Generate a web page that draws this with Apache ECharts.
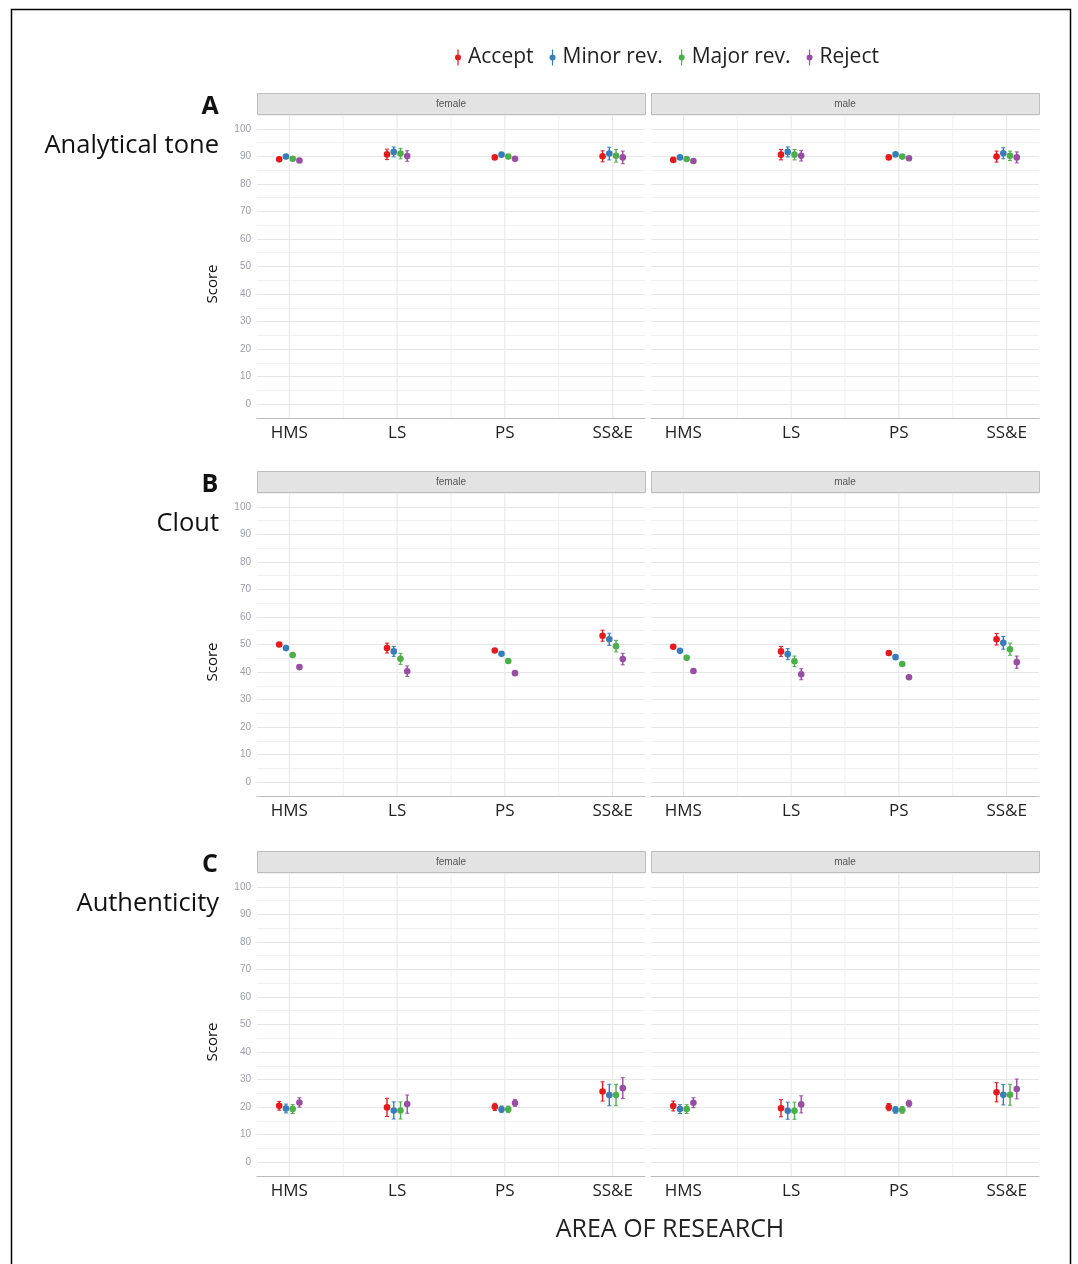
<!DOCTYPE html>
<html><head><meta charset="utf-8">
<script src="https://cdn.jsdelivr.net/npm/echarts@6/dist/echarts.min.js"></script>
<style>html,body{margin:0;padding:0;background:#fff}#c{width:1078px;height:1264px}</style>
</head><body><div id="c"></div>
<script>
const categories = ['HMS', 'LS', 'PS', 'SS&E'];
const decisions = ['Accept', 'Minor rev.', 'Major rev.', 'Reject'];
const genders = ['female', 'male'];
const metrics = ['Analytical tone', 'Clout', 'Authenticity'];
const panelLetters = ['A', 'B', 'C'];
const yTickLabels = [0, 10, 20, 30, 40, 50, 60, 70, 80, 90, 100];
const colors = ['#E41A1C', '#377EB8', '#4DAF4A', '#984EA3'];

// rows = decision (Accept, Minor, Major, Reject); columns = category (HMS, LS, PS, SS&E)
const analyticalFemaleMean = [[88.9, 90.7, 89.6, 90.0], [89.9, 91.6, 90.6, 91.0], [89.1, 91.0, 89.9, 90.2], [88.5, 90.1, 89.1, 89.6]];
const analyticalFemaleErr  = [[0.6, 1.9, 0.6, 2.0], [0.5, 1.8, 0.5, 2.3], [0.5, 1.9, 0.5, 2.3], [0.6, 1.9, 0.6, 2.3]];
const analyticalMaleMean   = [[88.7, 90.6, 89.6, 89.9], [89.6, 91.6, 90.7, 91.1], [89.0, 90.6, 89.9, 90.2], [88.3, 90.2, 89.3, 89.6]];
const analyticalMaleErr    = [[0.6, 1.9, 0.5, 2.0], [0.5, 1.8, 0.5, 2.0], [0.5, 1.9, 0.5, 1.7], [0.6, 1.9, 0.6, 2.0]];
const cloutFemaleMean = [[50.0, 48.7, 47.8, 53.2], [48.7, 47.5, 46.6, 51.9], [46.2, 44.8, 44.0, 49.4], [41.8, 40.3, 39.6, 44.7]];
const cloutFemaleErr  = [[0.6, 1.8, 0.6, 2.0], [0.6, 1.8, 0.6, 2.2], [0.6, 2.0, 0.6, 2.1], [0.7, 1.9, 0.6, 2.1]];
const cloutMaleMean   = [[49.2, 47.5, 46.9, 51.9], [47.7, 46.5, 45.4, 50.6], [45.2, 43.9, 42.9, 48.3], [40.4, 39.2, 38.1, 43.6]];
const cloutMaleErr    = [[0.6, 1.8, 0.6, 2.1], [0.6, 2.0, 0.6, 2.3], [0.6, 1.9, 0.6, 2.2], [0.6, 2.0, 0.6, 2.2]];
const authFemaleMean = [[20.5, 19.9, 20.1, 25.7], [19.5, 18.8, 19.2, 24.4], [19.3, 18.8, 19.2, 24.4], [21.7, 21.1, 21.5, 26.9]];
const authFemaleErr  = [[1.6, 3.3, 1.3, 3.5], [1.6, 3.1, 1.2, 3.9], [1.6, 3.1, 1.2, 3.9], [1.7, 3.3, 1.2, 3.8]];
const authMaleMean   = [[20.4, 19.6, 20.0, 25.4], [19.3, 18.7, 19.0, 24.5], [19.3, 18.7, 19.0, 24.5], [21.6, 21.0, 21.3, 26.6]];
const authMaleErr    = [[1.8, 3.1, 1.3, 3.5], [1.6, 3.1, 1.2, 3.7], [1.6, 3.1, 1.2, 3.8], [1.8, 3.1, 1.2, 3.6]];

const panelData = [
  [[analyticalFemaleMean, analyticalFemaleErr], [analyticalMaleMean, analyticalMaleErr]],
  [[cloutFemaleMean, cloutFemaleErr], [cloutMaleMean, cloutMaleErr]],
  [[authFemaleMean, authFemaleErr], [authMaleMean, authMaleErr]]
];

// layout
const colLeft = [257, 651];
const plotW = 388;
const rowTop = [115, 493, 873];
const plotH = 303;
const stripH = 21;
const dodge = 0.25;
const font = "'Open Sans', 'Noto Sans', sans-serif";

const grids = [], xAxes = [], yAxes = [], series = [], graphics = [];

graphics.push({type: 'rect', shape: {x: 11.5, y: 9.5, width: 1059, height: 1300}, style: {fill: 'none', stroke: '#000', lineWidth: 1.5}, z: 100});

function gridLineRender(params, api) {
  const x = api.value(0);
  const a = api.coord([x, -5]), b = api.coord([x, 105]);
  return {type: 'line', shape: {x1: a[0], y1: a[1], x2: b[0], y2: b[1]}, style: {stroke: Number.isInteger(x) ? '#e6e6e6' : '#f0f0f0', lineWidth: 1}};
}
function pointRender(params, api) {
  const x = api.value(0), m = api.value(1), e = api.value(2);
  const c = api.coord([x, m]), lo = api.coord([x, m - e]), hi = api.coord([x, m + e]);
  const color = api.visual('color');
  const cap = 2;
  return {type: 'group', children: [
    {type: 'line', shape: {x1: c[0], y1: lo[1], x2: c[0], y2: hi[1]}, style: {stroke: color, lineWidth: 1.4}},
    {type: 'line', shape: {x1: c[0] - cap, y1: lo[1], x2: c[0] + cap, y2: lo[1]}, style: {stroke: color, lineWidth: 1}},
    {type: 'line', shape: {x1: c[0] - cap, y1: hi[1], x2: c[0] + cap, y2: hi[1]}, style: {stroke: color, lineWidth: 1}},
    {type: 'circle', shape: {cx: c[0], cy: c[1], r: 3.3}, style: {fill: color}}
  ]};
}

let gi = 0;
for (let r = 0; r < 3; r++) {
  for (let g = 0; g < 2; g++) {
    grids.push({left: colLeft[g], top: rowTop[r], width: plotW, height: plotH});
    xAxes.push({
      gridIndex: gi, type: 'value', min: 0.7, max: 4.3,
      splitLine: {show: false}, axisTick: {show: false},
      axisLine: {show: true, onZero: false, lineStyle: {color: '#bcbcbc', width: 1.2}},
      axisLabel: {customValues: [1, 2, 3, 4], formatter: v => categories[Math.round(v) - 1], fontSize: 17, color: '#222', margin: 7, fontFamily: font}
    });
    yAxes.push({
      gridIndex: gi, type: 'value', min: -5, max: 105, interval: 5,
      axisLine: {show: false}, axisTick: {show: false},
      axisLabel: {show: g === 0, formatter: v => yTickLabels.includes(v) ? String(v) : '', fontSize: 10, color: '#9c9cac', margin: 6, fontFamily: "'Liberation Sans', sans-serif"},
      splitLine: {show: true, lineStyle: {color: ['#f0f0f0', '#e6e6e6'], width: 1}}
    });
    series.push({
      type: 'custom', xAxisIndex: gi, yAxisIndex: gi, silent: true, z: 1,
      data: [1, 1.5, 2, 2.5, 3, 3.5, 4].map(v => [v]), renderItem: gridLineRender
    });
    const [means, errs] = panelData[r][g];
    for (let d = 0; d < 4; d++) {
      series.push({
        type: 'custom', name: decisions[d], xAxisIndex: gi, yAxisIndex: gi, z: 5,
        itemStyle: {color: colors[d]},
        renderItem: pointRender,
        data: categories.map((c, k) => [k + 1 + (d - 1.5) * dodge / 4, means[d][k], errs[d][k]])
      });
    }
    // strip header
    graphics.push({type: 'rect', shape: {x: colLeft[g] + 0.5, y: rowTop[r] - stripH - 0.5, width: plotW, height: stripH}, style: {fill: '#e3e3e3', stroke: '#bdbdbd', lineWidth: 1}});
    graphics.push({type: 'text', x: colLeft[g] + plotW / 2, y: rowTop[r] - stripH / 2 - 0.5, style: {text: genders[g], fill: '#555', font: "10px 'Liberation Sans', sans-serif", align: 'center', verticalAlign: 'middle'}});
    gi++;
  }
  // row labels
  graphics.push({type: 'text', x: 210, y: rowTop[r] - 8, style: {text: panelLetters[r], fill: '#111', font: "bold 25px 'Open Sans', sans-serif", align: 'center', verticalAlign: 'middle'}});
  graphics.push({type: 'text', x: 219, y: rowTop[r] + 31, style: {text: metrics[r], fill: '#111', font: "25.5px 'Open Sans', sans-serif", align: 'right', verticalAlign: 'middle'}});
  graphics.push({type: 'text', x: 213, y: rowTop[r] + 169, rotation: Math.PI / 2, style: {text: 'Score', fill: '#111', font: "15px 'Open Sans', sans-serif", align: 'center', verticalAlign: 'middle'}});
}
graphics.push({type: 'text', x: 670, y: 1230, style: {text: 'AREA OF RESEARCH', fill: '#222', font: "25px 'Open Sans', sans-serif", align: 'center', verticalAlign: 'middle'}});

const legendIcon = 'path://M3.4,0H4.6V5.2H3.4Z M3.4,10.8H4.6V16H3.4Z M1,8A3,3 0 1 1 7,8A3,3 0 1 1 1,8Z';

const option = {
  animation: false,
  backgroundColor: '#fff',
  color: colors,
  legend: {
    left: 450, top: 42, itemWidth: 6, itemHeight: 17, itemGap: 16,
    data: decisions.map(n => ({name: n, icon: legendIcon})),
    textStyle: {fontSize: 21, color: '#222', fontFamily: font, padding: [0, 0, 0, 2]}
  },
  grid: grids, xAxis: xAxes, yAxis: yAxes, series: series,
  graphic: graphics
};
echarts.init(document.getElementById('c')).setOption(option);
</script></body></html>
